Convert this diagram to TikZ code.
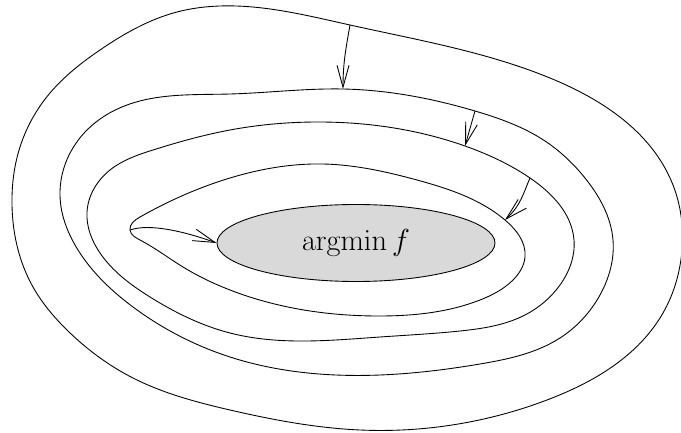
\documentclass[tikz,border=0pt]{standalone}
\usepackage{amsmath}
\usepackage{tikz}
\usetikzlibrary{arrows.meta, shapes.geometric, hobby}

\begin{document}
\begin{tikzpicture}[
          levelset/.style={
              draw=black,
              line width=0.5pt
            },
          minset/.style={
              ellipse,
              draw=black,
              fill=gray!30,
              line width=0.5pt,
              inner sep=0pt,
              minimum width=5.56cm,
              minimum height=1.54cm,
              font=\LARGE
            },
          descent/.style={-{Straight Barb[length=4.4mm, width=2.4mm]}, black, line width=0.5pt}
        ]
        \useasboundingbox (-7.12,-3.80) rectangle (6.50,4.86);

        % level sets, outer to inner
        \draw[levelset] plot[closed hobby] coordinates {
            (-3.02,4.72) (-0.12,4.36) (3.88,3.30) (6.34,1.16) (6.52,-0.14) (6.14,-1.40)
            (3.82,-3.14) (0.08,-3.74) (-2.52,-3.34) (-4.46,-2.70) (-5.78,-1.74)
            (-6.46,-0.88) (-6.88,0.76) (-6.72,1.92) (-6.12,3.00) (-5.12,3.86) (-3.58,4.62)};
        \draw[levelset] plot[closed hobby] coordinates {
            (-4.58,2.76) (-2.52,2.98) (-0.26,3.08) (2.38,2.64) (3.78,2.04) (4.58,1.30)
            (5.14,0.06) (4.88,-1.04) (4.08,-1.90) (2.48,-2.42) (0.48,-2.64) (-2.52,-2.28)
            (-4.46,-1.28) (-5.56,-0.14) (-5.92,0.96) (-5.38,2.26)};
        \draw[levelset] plot[closed hobby] coordinates {
            (-4.06,1.86) (-2.52,2.26) (-0.72,2.42) (2.18,1.94) (3.48,1.30) (4.36,0.06)
            (4.08,-0.84) (3.38,-1.44) (2.08,-1.76) (0.48,-1.88) (-2.52,-1.80) (-4.12,-1.08)
            (-5.12,-0.20) (-5.38,0.62) (-4.92,1.46)};
        \draw[levelset] plot[closed hobby] coordinates {
            (-4.52,0.26) (-4.32,0.52) (-2.52,1.30) (-0.66,1.58) (1.22,1.26) (2.98,0.46)
            (3.38,-0.28) (3.14,-0.74) (2.48,-1.14) (0.48,-1.46) (-2.52,-0.94)
            (-3.46,-0.48) (-4.32,0.06)};

        \node[minset] (argmin) at (0,0) {$\operatorname{argmin} f$};

        % points where the steps start and end
        \coordinate (x0) at (-0.12,4.36);
        \coordinate (x1) at (-0.26,3.08);
        \coordinate (x1b) at (2.38,2.64);
        \coordinate (x2) at (2.18,1.94);
        \coordinate (x2b) at (3.48,1.30);
        \coordinate (x3) at (2.98,0.46);
        \coordinate (x3b) at (-4.52,0.26);

        \draw[descent] (x0) to[out=-100,in=90] (x1);
        \draw[descent] (x1b) -- (x2);
        \draw[descent] (x2b) .. controls (3.34,0.98) and (3.30,0.76) .. (x3);
        \draw[descent] (x3b) .. controls (-4.12,0.40) and (-3.40,0.22) .. (argmin.west);
      \end{tikzpicture}
\end{document}
